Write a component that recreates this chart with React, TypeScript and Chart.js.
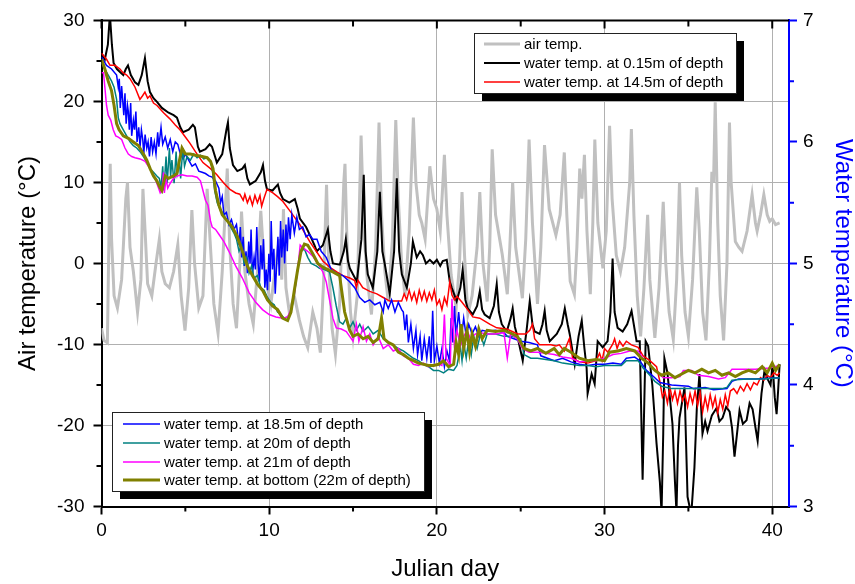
import React, { useEffect, useRef } from 'react';
import { Chart, registerables } from 'chart.js';
Chart.register(...registerables);

// Air temperature (°C) vs Julian day
const airSeries: number[][] = [
  [0, -8], [0.15, -9.5], [0.35, -9.8], [0.45, 4], [0.52, 12.3], [0.6, 3], [0.75, -4], [0.95, -5.5], [1.2, -2], [1.45, 8], [1.55, 10], [1.7, 2], [1.9, -1], [2.15, -6], [2.35, -2], [2.47, 9.2], [2.6, 4], [2.75, -2.5], [3.0, -4], [3.25, 0], [3.45, 3], [3.6, -1], [3.8, -2.5], [4.05, -3], [4.3, -1], [4.55, 2.3], [4.75, -4], [4.98, -8.3], [5.2, -3], [5.39, 6.6], [5.55, 0], [5.8, -5.5], [6.05, -4], [6.3, 9.2], [6.5, 2], [6.7, -5], [6.95, -8.6], [7.2, -1], [7.5, 11.7], [7.65, 2], [7.85, -5], [8.05, -8], [8.25, 0], [8.35, 6.4], [8.55, -1], [8.8, -5], [9.05, -7.5], [9.3, -1], [9.5, 6.5], [9.7, 0], [9.9, -3], [10.1, -5], [10.4, 0], [10.6, 3], [10.75, -2], [10.85, 6.7], [11.0, -3], [11.2, -6], [11.5, -4], [11.8, -7], [12.05, -9], [12.3, -10.4], [12.6, -6], [12.85, -8], [13.05, -11], [13.25, -2], [13.42, 9.7], [13.55, 0], [13.75, -8], [13.95, -11.2], [14.2, -5], [14.45, 10], [14.52, 12.3], [14.65, 2], [14.85, -6], [15.0, -9], [15.25, -4], [15.48, 15.8], [15.65, 4], [15.85, -2], [16.1, -6.3], [16.35, 2], [16.55, 17.4], [16.7, 6], [16.9, -1], [17.1, -4.7], [17.35, 3], [17.55, 17.7], [17.7, 8], [17.9, 0], [18.1, -4], [18.35, 4], [18.6, 18], [18.75, 10], [18.95, 6], [19.1, 5], [19.3, 3], [19.58, 12], [19.8, 8], [20.0, 6.7], [20.2, 4], [20.45, 13.4], [20.6, 6], [20.85, -1.4], [21.15, -5.5], [21.35, 0], [21.5, 8.8], [21.65, 1], [21.85, -6.3], [22.1, -4], [22.4, 2], [22.56, 8.8], [22.75, 0], [23.0, -4.7], [23.15, 2], [23.3, 14.1], [23.5, 6], [23.9, 1.1], [24.2, -3.8], [24.35, 2], [24.52, 10], [24.7, 2], [25.1, -4.3], [25.3, 3], [25.5, 15.3], [25.7, 5], [26.0, -5], [26.2, 2], [26.42, 14.6], [26.7, 6.7], [27.1, 3.5], [27.35, 6], [27.6, 13.7], [27.75, 6], [27.95, -2.2], [28.2, -3.8], [28.35, 2], [28.52, 11.7], [28.65, 8], [28.8, 13.4], [28.95, 4], [29.15, -3.8], [29.3, 5], [29.42, 15.3], [29.6, 5], [29.9, -0.6], [30.1, 4], [30.3, 17], [30.45, 8], [30.7, 1], [30.95, -1], [31.2, 2], [31.5, 10], [31.6, 16.6], [31.75, 6], [31.95, -4], [32.15, -9], [32.35, -3], [32.57, 6], [32.7, -2], [33.0, -9.2], [33.25, -3], [33.5, 7.6], [33.65, 0], [33.85, -6], [34.1, -9.4], [34.3, -2], [34.47, 10], [34.6, 1], [34.8, -6], [35.0, -9], [35.25, -2], [35.5, 9.4], [35.65, 4], [35.85, -6], [36.05, -9.5], [36.25, 0], [36.4, 11.3], [36.5, 10], [36.6, 19.9], [36.75, 5], [36.9, -4], [37.1, -9.5], [37.3, 0], [37.45, 17.4], [37.55, 10], [37.8, 2.7], [38.0, 2], [38.2, 1.5], [38.5, 4], [38.8, 8.5], [39.0, 5], [39.1, 4], [39.3, 6], [39.5, 8.5], [39.7, 6], [39.85, 5.2], [40.0, 5.5], [40.2, 4.8], [40.44, 5],
];

// Water temperature (°C) vs Julian day
const depth015Series: number[][] = [
  [0, 6.73], [0.2, 6.68], [0.38, 6.8], [0.5, 7.05], [0.62, 6.8], [0.72, 6.65], [0.92, 6.6], [1.15, 6.57], [1.3, 6.55], [1.45, 6.6], [1.58, 6.63], [1.75, 6.55], [2.0, 6.49], [2.2, 6.47], [2.4, 6.55], [2.59, 6.69], [2.75, 6.5], [2.89, 6.41], [3.1, 6.36], [3.31, 6.33], [3.6, 6.28], [4.0, 6.24], [4.3, 6.22], [4.5, 6.2], [4.7, 6.12], [4.86, 6.08], [5.2, 6.1], [5.45, 6.14], [5.57, 6.12], [5.75, 5.96], [5.87, 5.92], [6.2, 5.94], [6.45, 5.98], [6.59, 5.96], [6.88, 5.83], [7.2, 5.9], [7.45, 6.1], [7.54, 6.16], [7.65, 5.95], [7.84, 5.81], [8.1, 5.76], [8.4, 5.78], [8.55, 5.81], [8.7, 5.7], [8.85, 5.65], [9.2, 5.68], [9.5, 5.75], [9.63, 5.81], [9.75, 5.68], [9.87, 5.61], [10.2, 5.6], [10.52, 5.65], [10.65, 5.58], [10.82, 5.53], [11.2, 5.5], [11.53, 5.53], [11.7, 5.45], [11.83, 5.37], [12.2, 5.3], [12.54, 5.2], [12.7, 5.15], [12.84, 5.1], [13.2, 5.15], [13.5, 5.28], [13.65, 5.1], [13.8, 5.0], [14.21, 4.99], [14.45, 5.1], [14.57, 5.2], [14.7, 5.02], [14.81, 4.96], [15.23, 4.85], [15.5, 5.2], [15.64, 5.73], [15.75, 5.1], [15.88, 4.91], [16.18, 4.8], [16.45, 5.1], [16.6, 5.59], [16.75, 5.1], [16.9, 4.99], [17.19, 4.75], [17.45, 5.1], [17.61, 5.7], [17.75, 5.1], [17.91, 4.91], [18.21, 4.8], [18.45, 5.0], [18.57, 5.18], [18.8, 5.05], [19.0, 5.1], [19.16, 5.07], [19.35, 5.0], [19.58, 5.03], [19.8, 5.0], [20.0, 5.03], [20.2, 4.98], [20.35, 5.02], [20.59, 5.03], [20.77, 4.85], [20.89, 4.8], [21.18, 4.69], [21.4, 4.8], [21.54, 4.95], [21.7, 4.7], [21.84, 4.63], [22.14, 4.58], [22.4, 4.65], [22.56, 4.77], [22.7, 4.62], [22.85, 4.58], [23.15, 4.55], [23.4, 4.65], [23.57, 4.83], [23.7, 4.6], [23.87, 4.5], [24.17, 4.44], [24.4, 4.55], [24.52, 4.63], [24.65, 4.48], [24.82, 4.39], [25.12, 4.2], [25.35, 4.45], [25.54, 4.69], [25.7, 4.5], [25.83, 4.44], [26.13, 4.42], [26.3, 4.5], [26.43, 4.61], [26.55, 4.45], [26.73, 4.36], [27.15, 4.42], [27.45, 4.5], [27.63, 4.63], [27.8, 4.5], [27.92, 4.42], [28.22, 4.17], [28.45, 4.4], [28.64, 4.53], [28.8, 4.3], [28.93, 4.14], [28.99, 3.93], [29.23, 4.09], [29.41, 4.01], [29.59, 4.36], [29.89, 4.31], [30.18, 4.36], [30.35, 4.6], [30.48, 5.04], [30.6, 4.6], [30.78, 4.47], [31.08, 4.44], [31.35, 4.5], [31.61, 4.61], [31.91, 4.36], [32.1, 4.36], [32.27, 3.22], [32.45, 4.36], [32.6, 4.32], [32.85, 4.0], [33.1, 3.52], [33.3, 3.2], [33.4, 2.95], [33.5, 3.6], [33.57, 4.22], [33.75, 4.1], [34.05, 3.68], [34.2, 3.2], [34.29, 2.95], [34.38, 3.5], [34.47, 3.73], [34.77, 3.98], [34.95, 3.08], [35.1, 2.98], [35.19, 2.97], [35.36, 3.32], [35.5, 3.8], [35.66, 4.09], [35.84, 3.6], [36.0, 3.7], [36.14, 3.62], [36.4, 3.75], [36.68, 3.81], [36.85, 3.7], [37.04, 3.73], [37.25, 3.82], [37.46, 3.78], [37.6, 3.65], [37.75, 3.41], [37.9, 3.6], [38.05, 3.79], [38.25, 3.68], [38.47, 3.71], [38.65, 3.85], [38.83, 3.8], [39.0, 3.65], [39.13, 3.54], [39.25, 3.75], [39.36, 3.93], [39.54, 4.12], [39.72, 4.05], [39.9, 4.0], [40.02, 4.17], [40.15, 3.9], [40.26, 3.76], [40.35, 3.95], [40.44, 4.17],
];

const depth145Series: number[][] = [
  [0, 6.73], [0.3, 6.68], [0.51, 6.63], [0.8, 6.63], [1.1, 6.6], [1.28, 6.57], [1.5, 6.55], [1.7, 6.52], [2.0, 6.45], [2.29, 6.35], [2.45, 6.38], [2.59, 6.41], [2.75, 6.36], [2.89, 6.38], [3.1, 6.32], [3.31, 6.3], [3.7, 6.24], [4.08, 6.19], [4.4, 6.14], [4.68, 6.1], [5.0, 6.04], [5.27, 5.99], [5.6, 5.92], [6.05, 5.83], [6.5, 5.78], [6.88, 5.73], [7.3, 5.66], [7.66, 5.61], [8.0, 5.58], [8.25, 5.57], [8.45, 5.52], [8.55, 5.57], [8.7, 5.5], [8.85, 5.55], [9.0, 5.48], [9.15, 5.56], [9.3, 5.5], [9.45, 5.56], [9.55, 5.47], [9.7, 5.54], [9.87, 5.61], [10.22, 5.58], [10.5, 5.55], [10.82, 5.51], [11.3, 5.42], [11.83, 5.32], [12.42, 5.18], [13.2, 5.02], [13.6, 4.97], [14.03, 4.93], [14.4, 4.9], [14.81, 4.88], [15.1, 4.86], [15.2, 4.8], [15.3, 4.86], [15.58, 4.8], [16.0, 4.77], [16.42, 4.75], [16.8, 4.72], [17.19, 4.69], [17.9, 4.69], [18.05, 4.75], [18.2, 4.7], [18.35, 4.78], [18.5, 4.7], [18.65, 4.76], [18.8, 4.68], [18.95, 4.78], [19.1, 4.7], [19.25, 4.77], [19.4, 4.69], [19.55, 4.76], [19.7, 4.7], [19.85, 4.78], [20.0, 4.66], [20.15, 4.7], [20.3, 4.62], [20.45, 4.72], [20.6, 4.66], [20.77, 4.85], [20.9, 4.74], [21.05, 4.7], [21.2, 4.73], [21.5, 4.68], [21.84, 4.62], [22.14, 4.56], [22.56, 4.55], [23.15, 4.5], [23.57, 4.47], [24.17, 4.46], [24.82, 4.42], [25.3, 4.42], [25.54, 4.45], [25.7, 4.5], [25.83, 4.38], [26.13, 4.33], [26.5, 4.33], [26.8, 4.33], [27.1, 4.32], [27.3, 4.33], [27.6, 4.28], [27.9, 4.38], [28.1, 4.22], [28.5, 4.19], [29.0, 4.18], [29.5, 4.2], [29.7, 4.26], [29.85, 4.2], [30.0, 4.3], [30.2, 4.27], [30.5, 4.34], [30.6, 4.38], [30.75, 4.3], [30.9, 4.36], [31.1, 4.32], [31.3, 4.36], [31.6, 4.33], [32.0, 4.31], [32.3, 4.24], [32.7, 4.2], [33.1, 4.15], [33.3, 4.03], [33.45, 3.9], [33.6, 3.95], [33.75, 3.85], [33.9, 3.98], [34.05, 3.88], [34.2, 3.95], [34.35, 3.85], [34.5, 3.95], [34.65, 3.87], [34.8, 3.92], [34.95, 3.82], [35.1, 3.93], [35.25, 3.85], [35.4, 3.95], [35.55, 3.83], [35.7, 3.94], [35.85, 3.78], [36.0, 3.9], [36.15, 3.8], [36.3, 3.92], [36.45, 3.82], [36.6, 3.9], [36.75, 3.77], [36.9, 3.88], [37.05, 3.8], [37.2, 3.92], [37.35, 3.83], [37.5, 3.95], [37.7, 3.97], [37.9, 3.93], [38.1, 3.99], [38.3, 3.95], [38.5, 4.01], [38.7, 3.96], [38.9, 4.02], [39.1, 4.0], [39.3, 4.06], [39.5, 4.04], [39.7, 4.08], [39.9, 4.06], [40.1, 4.1], [40.3, 4.08], [40.44, 4.1],
];

const depth185Series: number[][] = [
  [0, 6.7], [0.3, 6.63], [0.6, 6.6], [0.9, 6.55], [1.0, 6.45], [1.06, 6.52], [1.12, 6.28], [1.2, 6.46], [1.26, 6.35], [1.33, 6.22], [1.4, 6.4], [1.47, 6.15], [1.55, 6.3], [1.6, 6.25], [1.66, 6.1], [1.74, 6.32], [1.8, 6.05], [1.9, 6.18], [1.97, 6.1], [2.05, 6.25], [2.12, 6.0], [2.22, 6.12], [2.3, 5.96], [2.38, 6.1], [2.46, 6.02], [2.52, 5.9], [2.6, 6.06], [2.7, 5.95], [2.78, 6.0], [2.86, 5.88], [2.96, 6.04], [3.05, 5.92], [3.15, 6.0], [3.25, 5.9], [3.35, 6.08], [3.42, 5.96], [3.55, 6.12], [3.65, 5.98], [3.8, 6.04], [3.95, 5.95], [4.1, 6.02], [4.25, 5.92], [4.4, 6.0], [4.55, 5.98], [4.7, 5.9], [4.86, 5.86], [5.0, 5.9], [5.2, 5.85], [5.4, 5.8], [5.6, 5.82], [5.8, 5.76], [6.0, 5.75], [6.2, 5.74], [6.4, 5.72], [6.6, 5.71], [6.8, 5.68], [7.0, 5.62], [7.1, 5.5], [7.2, 5.55], [7.3, 5.4], [7.45, 5.42], [7.6, 5.32], [7.75, 5.36], [7.9, 5.28], [8.05, 5.32], [8.2, 5.15], [8.28, 5.3], [8.36, 5.05], [8.45, 5.22], [8.52, 4.98], [8.62, 5.1], [8.7, 4.92], [8.78, 5.18], [8.86, 5.0], [8.92, 5.28], [9.0, 4.9], [9.1, 5.05], [9.18, 4.95], [9.26, 5.3], [9.34, 5.0], [9.42, 4.85], [9.5, 5.15], [9.58, 4.95], [9.66, 5.2], [9.74, 4.8], [9.82, 4.95], [9.9, 4.78], [9.98, 5.08], [10.06, 4.85], [10.12, 5.35], [10.2, 4.95], [10.28, 5.12], [10.36, 4.75], [10.45, 5.0], [10.52, 5.22], [10.6, 4.9], [10.68, 5.35], [10.75, 5.05], [10.84, 5.28], [10.92, 5.0], [11.0, 5.32], [11.08, 5.1], [11.15, 5.38], [11.25, 5.2], [11.35, 5.4], [11.5, 5.25], [11.65, 5.38], [11.8, 5.28], [12.0, 5.3], [12.2, 5.22], [12.4, 5.24], [12.6, 5.2], [12.85, 5.2], [13.1, 5.1], [13.4, 5.05], [13.7, 4.95], [14.0, 4.92], [14.4, 4.9], [14.8, 4.85], [15.1, 4.8], [15.4, 4.72], [15.7, 4.68], [16.0, 4.7], [16.3, 4.66], [16.6, 4.68], [16.8, 4.6], [16.9, 4.7], [17.1, 4.63], [17.3, 4.7], [17.5, 4.6], [17.7, 4.68], [17.9, 4.62], [18.0, 4.6], [18.1, 4.45], [18.2, 4.58], [18.3, 4.35], [18.45, 4.5], [18.6, 4.3], [18.75, 4.45], [18.85, 4.25], [19.0, 4.4], [19.1, 4.2], [19.25, 4.38], [19.4, 4.22], [19.55, 4.4], [19.65, 4.18], [19.75, 4.61], [19.85, 4.2], [20.0, 4.32], [20.15, 4.18], [20.3, 4.3], [20.45, 4.15], [20.6, 4.28], [20.75, 4.2], [20.85, 4.55], [20.95, 4.35], [21.05, 4.65], [21.15, 4.4], [21.3, 4.6], [21.45, 4.38], [21.6, 4.55], [21.75, 4.4], [21.9, 4.5], [22.1, 4.42], [22.3, 4.48], [22.5, 4.4], [22.7, 4.45], [23.0, 4.44], [23.5, 4.45], [24.0, 4.43], [24.2, 4.4], [24.6, 4.38], [25.0, 4.36], [25.5, 4.35], [26.0, 4.33], [26.2, 4.24], [26.6, 4.22], [27.0, 4.2], [27.5, 4.22], [28.0, 4.19], [28.5, 4.17], [29.0, 4.16], [29.5, 4.17], [30.0, 4.17], [30.5, 4.18], [31.0, 4.17], [31.3, 4.22], [31.8, 4.23], [32.1, 4.2], [32.5, 4.12], [33.0, 4.06], [33.3, 4.02], [34.0, 4.0], [35.0, 3.99], [35.3, 3.97], [36.0, 3.98], [36.5, 3.96], [37.3, 3.97], [37.6, 4.03], [38.0, 4.05], [39.0, 4.05], [40.44, 4.06],
];

const depth20Series: number[][] = [
  [0, 6.65], [0.2, 6.6], [0.4, 6.55], [0.6, 6.5], [0.75, 6.45], [0.9, 6.35], [1.0, 6.2], [1.1, 6.15], [1.3, 6.1], [1.5, 6.05], [1.7, 6.0], [1.9, 5.97], [2.1, 5.95], [2.3, 5.92], [2.5, 5.88], [2.7, 5.83], [2.9, 5.78], [3.1, 5.75], [3.3, 5.72], [3.45, 5.7], [3.55, 5.62], [3.65, 5.8], [3.72, 5.6], [3.85, 5.88], [3.92, 5.66], [4.05, 5.95], [4.12, 5.72], [4.2, 5.85], [4.33, 5.66], [4.45, 5.92], [4.52, 5.74], [4.65, 5.83], [4.72, 5.7], [4.85, 5.95], [4.95, 5.8], [5.1, 5.88], [5.3, 5.85], [5.5, 5.9], [5.7, 5.87], [5.9, 5.89], [6.1, 5.86], [6.3, 5.87], [6.5, 5.84], [6.6, 5.78], [6.75, 5.6], [6.9, 5.5], [7.05, 5.45], [7.2, 5.42], [7.35, 5.38], [7.5, 5.35], [7.7, 5.3], [7.9, 5.25], [8.05, 5.2], [8.2, 5.1], [8.35, 5.15], [8.5, 5.0], [8.65, 5.05], [8.8, 4.92], [8.95, 4.98], [9.1, 4.88], [9.3, 4.9], [9.5, 4.8], [9.7, 4.78], [9.9, 4.72], [10.1, 4.68], [10.3, 4.66], [10.5, 4.6], [10.7, 4.58], [10.9, 4.55], [11.1, 4.56], [11.3, 4.6], [11.45, 4.7], [11.6, 4.85], [11.75, 5.0], [11.9, 5.1], [12.1, 5.12], [12.3, 5.05], [12.5, 5.0], [12.8, 4.98], [13.0, 4.96], [13.3, 4.95], [13.6, 4.93], [13.8, 4.8], [14.0, 4.65], [14.2, 4.52], [14.4, 4.5], [14.6, 4.55], [14.8, 4.47], [15.0, 4.52], [15.2, 4.45], [15.4, 4.5], [15.6, 4.44], [15.9, 4.48], [16.2, 4.42], [16.5, 4.45], [16.8, 4.38], [17.1, 4.35], [17.4, 4.33], [17.7, 4.3], [18.0, 4.28], [18.3, 4.25], [18.6, 4.22], [18.9, 4.2], [19.2, 4.17], [19.5, 4.15], [19.8, 4.12], [20.1, 4.12], [20.4, 4.1], [20.7, 4.13], [21.0, 4.12], [21.2, 4.16], [21.4, 4.32], [21.5, 4.2], [21.6, 4.35], [21.75, 4.22], [21.9, 4.38], [22.05, 4.25], [22.2, 4.4], [22.4, 4.3], [22.6, 4.42], [22.8, 4.33], [23.0, 4.42], [23.5, 4.42], [24.0, 4.4], [24.5, 4.4], [25.0, 4.38], [25.2, 4.25], [25.6, 4.22], [26.0, 4.22], [26.5, 4.21], [27.0, 4.2], [27.5, 4.18], [28.0, 4.17], [28.5, 4.16], [29.0, 4.16], [29.5, 4.15], [30.0, 4.16], [30.5, 4.16], [31.0, 4.16], [31.3, 4.2], [32.0, 4.2], [32.3, 4.14], [32.7, 4.08], [33.0, 4.03], [33.4, 3.99], [34.0, 3.97], [35.0, 3.97], [36.0, 3.97], [37.0, 3.97], [37.3, 3.98], [37.6, 4.04], [38.5, 4.05], [39.5, 4.05], [40.44, 4.06],
];

const depth21Series: number[][] = [
  [0, 6.57], [0.12, 6.57], [0.2, 6.45], [0.3, 6.3], [0.4, 6.22], [0.55, 6.18], [0.7, 6.1], [0.85, 6.05], [1.0, 6.04], [1.2, 6.02], [1.4, 5.95], [1.6, 5.9], [1.8, 5.88], [2.0, 5.87], [2.3, 5.86], [2.6, 5.84], [2.8, 5.8], [3.0, 5.75], [3.2, 5.7], [3.4, 5.62], [3.5, 5.58], [3.6, 5.6], [3.7, 5.75], [3.75, 5.58], [3.85, 5.7], [3.95, 5.62], [4.1, 5.66], [4.3, 5.7], [4.5, 5.72], [4.8, 5.73], [5.1, 5.72], [5.4, 5.72], [5.7, 5.71], [5.9, 5.68], [6.05, 5.6], [6.2, 5.52], [6.35, 5.48], [6.5, 5.35], [6.6, 5.3], [6.8, 5.28], [7.0, 5.24], [7.3, 5.18], [7.6, 5.1], [8.0, 4.98], [8.4, 4.88], [8.8, 4.76], [9.2, 4.68], [9.6, 4.62], [10.0, 4.58], [10.4, 4.56], [10.8, 4.55], [11.1, 4.56], [11.3, 4.62], [11.5, 4.75], [11.7, 4.95], [11.85, 5.15], [12.0, 5.13], [12.3, 5.1], [12.6, 5.06], [12.9, 5.0], [13.2, 4.93], [13.4, 4.85], [13.6, 4.7], [13.8, 4.55], [14.0, 4.47], [14.3, 4.46], [14.6, 4.44], [14.8, 4.4], [15.0, 4.36], [15.2, 4.5], [15.35, 4.36], [15.6, 4.48], [15.8, 4.36], [16.0, 4.42], [16.2, 4.33], [16.5, 4.4], [16.8, 4.3], [17.1, 4.33], [17.4, 4.28], [17.7, 4.3], [18.0, 4.24], [18.3, 4.22], [18.6, 4.17], [18.9, 4.16], [19.2, 4.18], [19.5, 4.15], [19.8, 4.16], [20.1, 4.17], [20.3, 4.16], [20.45, 4.58], [20.55, 4.22], [20.8, 4.16], [20.9, 4.71], [21.05, 4.3], [21.2, 4.45], [21.4, 4.32], [21.6, 4.4], [21.8, 4.45], [22.0, 4.38], [22.3, 4.42], [22.6, 4.43], [23.0, 4.42], [23.5, 4.42], [24.0, 4.43], [24.2, 4.22], [24.4, 4.42], [24.8, 4.38], [25.1, 4.3], [25.5, 4.27], [26.0, 4.27], [26.5, 4.26], [27.0, 4.25], [27.5, 4.23], [28.0, 4.22], [28.5, 4.19], [29.0, 4.2], [29.5, 4.2], [30.0, 4.22], [30.5, 4.25], [31.0, 4.26], [31.5, 4.28], [32.0, 4.28], [32.4, 4.2], [32.8, 4.15], [33.2, 4.1], [33.5, 4.06], [34.0, 4.06], [34.5, 4.07], [34.7, 4.12], [35.2, 4.12], [35.6, 4.08], [36.2, 4.07], [36.8, 4.05], [37.2, 4.06], [37.6, 4.13], [38.2, 4.13], [39.0, 4.13], [39.8, 4.14], [40.44, 4.16],
];

const bottomSeries: number[][] = [
  [0, 6.68], [0.2, 6.6], [0.4, 6.5], [0.6, 6.42], [0.75, 6.3], [0.9, 6.15], [1.05, 6.1], [1.3, 6.05], [1.6, 6.03], [1.9, 6.0], [2.2, 5.97], [2.5, 5.9], [2.7, 5.85], [2.9, 5.78], [3.1, 5.72], [3.3, 5.68], [3.5, 5.62], [3.6, 5.6], [3.8, 5.72], [4.0, 5.7], [4.3, 5.72], [4.5, 5.74], [4.65, 5.85], [4.8, 5.95], [5.0, 5.9], [5.3, 5.9], [5.6, 5.89], [6.0, 5.88], [6.3, 5.87], [6.5, 5.84], [6.65, 5.78], [6.8, 5.6], [7.0, 5.48], [7.2, 5.4], [7.5, 5.35], [7.8, 5.3], [8.1, 5.22], [8.4, 5.1], [8.7, 4.98], [9.0, 4.9], [9.3, 4.83], [9.6, 4.78], [9.9, 4.7], [10.2, 4.65], [10.5, 4.62], [10.8, 4.55], [11.1, 4.53], [11.3, 4.6], [11.5, 4.78], [11.7, 4.95], [11.9, 5.1], [12.1, 5.16], [12.3, 5.15], [12.6, 5.08], [12.9, 5.0], [13.2, 4.97], [13.5, 4.95], [13.8, 4.93], [14.2, 4.9], [14.5, 4.6], [14.8, 4.45], [15.0, 4.4], [15.3, 4.42], [15.6, 4.38], [15.9, 4.4], [16.2, 4.35], [16.5, 4.38], [16.7, 4.55], [16.85, 4.38], [17.1, 4.35], [17.4, 4.33], [17.7, 4.27], [18.0, 4.25], [18.3, 4.22], [18.6, 4.2], [18.9, 4.18], [19.2, 4.17], [19.5, 4.16], [19.8, 4.16], [20.1, 4.17], [20.4, 4.2], [20.7, 4.15], [21.0, 4.17], [21.15, 4.35], [21.3, 4.25], [21.45, 4.5], [21.6, 4.3], [21.8, 4.45], [21.95, 4.28], [22.1, 4.42], [22.3, 4.32], [22.5, 4.46], [22.7, 4.38], [23.0, 4.45], [23.5, 4.44], [24.0, 4.45], [24.5, 4.42], [24.8, 4.4], [25.2, 4.3], [25.6, 4.28], [26.0, 4.3], [26.5, 4.26], [27.0, 4.3], [27.3, 4.25], [27.6, 4.3], [28.0, 4.27], [28.5, 4.22], [29.0, 4.2], [29.5, 4.21], [30.0, 4.2], [30.3, 4.27], [30.8, 4.28], [31.3, 4.3], [31.8, 4.28], [32.2, 4.22], [32.6, 4.18], [33.0, 4.12], [33.4, 4.08], [33.8, 4.1], [34.2, 4.06], [34.6, 4.09], [35.0, 4.12], [35.4, 4.1], [35.8, 4.13], [36.2, 4.1], [36.6, 4.12], [37.0, 4.08], [37.4, 4.1], [37.8, 4.07], [38.2, 4.1], [38.6, 4.12], [39.0, 4.1], [39.4, 4.15], [39.7, 4.1], [40.0, 4.18], [40.2, 4.12], [40.44, 4.17],
];

const seriesLabels = [
  'air temp.',
  'water temp. at 0.15m of depth',
  'water temp. at 14.5m of depth',
  'water temp. at 18.5m of depth',
  'water temp. at 20m of depth',
  'water temp. at 21m of depth',
  'water temp. at bottom (22m of depth)',
];
const seriesData = [airSeries, depth015Series, depth145Series, depth185Series, depth20Series, depth21Series, bottomSeries];
const seriesColors = ['#c0c0c0', '#000000', '#ff0000', '#0000ff', '#008080', '#ff00ff', '#808000'];
const seriesWidths = [3, 2, 1.5, 1.5, 1.5, 1.5, 3];
const seriesOrder = [7, 6, 5, 4, 3, 2, 1];

const FONT = "'Liberation Sans', Arial, Helvetica, sans-serif";

const framePlugin = {
  id: 'frameAndLegends',
  afterDraw(chart: any) {
    const { ctx, chartArea } = chart;
    const { left, right, top, bottom } = chartArea;
    const xs = chart.scales.x;
    const yl = chart.scales.y;
    const yr = chart.scales.y1;
    ctx.save();
    ctx.strokeStyle = '#000';
    ctx.lineWidth = 2;
    ctx.beginPath();
    ctx.moveTo(left - 1, top);
    ctx.lineTo(right, top);
    ctx.stroke();
    ctx.beginPath();
    xs.ticks.forEach((t: any) => {
      const px = xs.getPixelForValue(t.value);
      const major = t.value % 10 === 0;
      ctx.moveTo(px, top);
      ctx.lineTo(px, top + (major ? 8 : 6));
      if (!major) {
        ctx.moveTo(px, bottom);
        ctx.lineTo(px, bottom + 5);
      }
    });
    yl.ticks.forEach((t: any) => {
      if (t.value % 10 !== 0) {
        const py = yl.getPixelForValue(t.value);
        ctx.moveTo(left, py);
        ctx.lineTo(left - 5, py);
      }
    });
    ctx.stroke();
    ctx.strokeStyle = '#0000ff';
    ctx.beginPath();
    yr.ticks.forEach((t: any) => {
      if (Math.abs(t.value - Math.round(t.value)) > 0.01) {
        const py = yr.getPixelForValue(t.value);
        ctx.moveTo(right, py);
        ctx.lineTo(right + 5, py);
      }
    });
    ctx.stroke();

    const drawLegend = (bx: number, by: number, bw: number, bh: number, idxs: number[], rowY: number[], lx0: number, lx1: number, tx: number) => {
      ctx.fillStyle = '#000';
      ctx.fillRect(bx + 8, by + 8, bw, bh);
      ctx.fillStyle = '#fff';
      ctx.fillRect(bx, by, bw, bh);
      ctx.strokeStyle = '#222';
      ctx.lineWidth = 1;
      ctx.strokeRect(bx + 0.5, by + 0.5, bw, bh);
      ctx.font = `15px ${FONT}`;
      ctx.textBaseline = 'middle';
      ctx.textAlign = 'left';
      idxs.forEach((di, k) => {
        const ds = chart.data.datasets[di];
        const y = by + rowY[k];
        ctx.strokeStyle = ds.borderColor;
        ctx.lineWidth = ds.borderWidth;
        ctx.beginPath();
        ctx.moveTo(bx + lx0, y);
        ctx.lineTo(bx + lx1, y);
        ctx.stroke();
        ctx.fillStyle = '#000';
        ctx.fillText(ds.label, bx + tx, y + 1);
      });
    };
    drawLegend(474, 33, 262, 60, [0, 1, 2], [11, 30, 49], 10, 46, 50);
    drawLegend(112, 412, 312, 79, [3, 4, 5, 6], [12, 31, 50, 68], 11, 48, 52);
    ctx.restore();
  },
};

export default function App() {
  const ref = useRef<HTMLCanvasElement>(null);
  useEffect(() => {
    const datasets = seriesData.map((s, i) => ({
      label: seriesLabels[i],
      data: s.map((p) => ({ x: p[0], y: p[1] })),
      borderColor: seriesColors[i],
      backgroundColor: seriesColors[i],
      borderWidth: seriesWidths[i],
      pointRadius: 0,
      tension: 0,
      fill: false,
      order: seriesOrder[i],
      yAxisID: i === 0 ? 'y' : 'y1',
    }));
    const chart = new Chart(ref.current as HTMLCanvasElement, {
      type: 'line',
      data: { datasets },
      plugins: [framePlugin],
      options: {
        responsive: false,
        animation: false,
        devicePixelRatio: 1,
        layout: { padding: { top: 17.5, left: 0, right: 0, bottom: 0 } },
        plugins: { legend: { display: false }, tooltip: { enabled: false } },
        font: { family: FONT },
        scales: {
          x: {
            type: 'linear',
            min: 0,
            max: 41,
            afterFit: (s: any) => { s.height = 77.5; },
            ticks: {
              stepSize: 5,
              includeBounds: false,
              autoSkip: false,
              maxRotation: 0,
              padding: 5,
              color: '#000',
              font: { size: 19, family: FONT },
              callback: (v: any) => (Number(v) % 10 === 0 ? String(v) : ''),
            },
            grid: {
              color: (ctx: any) => {
                const v = ctx.tick ? ctx.tick.value : 0;
                return v % 10 === 0 && v !== 0 ? '#b0b0b0' : 'rgba(0,0,0,0)';
              },
              lineWidth: 1,
              tickLength: 8,
              tickWidth: 2,
              tickColor: (ctx: any) => (ctx.tick && ctx.tick.value % 10 === 0 ? '#000' : 'rgba(0,0,0,0)'),
            },
            border: { color: '#000', width: 2 },
            title: {
              display: true,
              text: 'Julian day',
              color: '#000',
              font: { size: 24, family: FONT },
              padding: { top: 0, bottom: 0 },
            },
          },
          y: {
            type: 'linear',
            position: 'left',
            min: -30,
            max: 30,
            afterFit: (s: any) => { s.width = 101.5; },
            ticks: {
              stepSize: 5,
              autoSkip: false,
              padding: 9,
              color: '#000',
              font: { size: 19, family: FONT },
              callback: (v: any) => (Number(v) % 10 === 0 ? String(v) : ''),
            },
            grid: {
              color: (ctx: any) => {
                const v = ctx.tick ? ctx.tick.value : 0;
                return v % 10 === 0 && Math.abs(v) !== 30 ? '#b0b0b0' : 'rgba(0,0,0,0)';
              },
              lineWidth: 1,
              tickLength: 8,
              tickWidth: 2,
              tickColor: (ctx: any) => (ctx.tick && ctx.tick.value % 10 === 0 ? '#000' : 'rgba(0,0,0,0)'),
            },
            border: { color: '#000', width: 2 },
            title: {
              display: true,
              text: 'Air temperature (°C)',
              color: '#000',
              font: { size: 24, family: FONT },
              padding: { top: 14, bottom: 0 },
            },
          },
          y1: {
            type: 'linear',
            position: 'right',
            min: 3,
            max: 7,
            afterFit: (s: any) => { s.width = 66; },
            ticks: {
              stepSize: 0.5,
              autoSkip: false,
              padding: 6,
              color: '#000',
              font: { size: 19, family: FONT },
              callback: (v: any) => (Math.abs(Number(v) - Math.round(Number(v))) < 0.01 ? String(Math.round(Number(v))) : ''),
            },
            grid: {
              drawOnChartArea: false,
              tickLength: 8,
              tickWidth: 2,
              tickColor: (ctx: any) => {
                const v = ctx.tick ? ctx.tick.value : 0;
                return Math.abs(v - Math.round(v)) < 0.01 ? '#0000ff' : 'rgba(0,0,0,0)';
              },
            },
            border: { color: '#0000ff', width: 2 },
            title: {
              display: true,
              text: 'Water temperature (°C)',
              color: '#0000ff',
              font: { size: 24, family: FONT, lineHeight: 1 },
              padding: { top: 0, bottom: 0 },
            },
          },
        },
      } as any,
    });
    return () => chart.destroy();
  }, []);
  return (
    <div style={{ position: 'absolute', left: 0, top: 0, width: 855, height: 584, background: '#fff' }}>
      <canvas ref={ref} width={855} height={584} style={{ display: 'block', width: 855, height: 584 }} />
    </div>
  );
}
